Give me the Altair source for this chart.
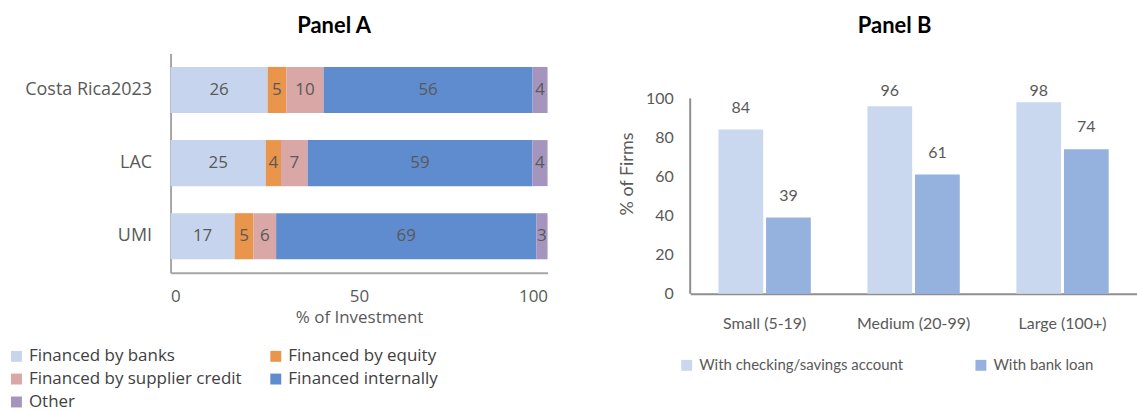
import altair as alt
import pandas as pd

# Panel A: sources of investment finance by region (% of investment)
regions = ["Costa Rica2023", "LAC", "UMI"]
sources = [
    "Financed by banks",
    "Financed by equity",
    "Financed by supplier credit",
    "Financed internally",
    "Other",
]
banks = [26, 25, 17]
equity = [5, 4, 5]
supplier = [10, 7, 6]
internal = [56, 59, 69]
other = [4, 4, 3]
source_colors = ["#c6d5ed", "#e9954c", "#d8a7a6", "#5f8bcf", "#a595be"]

# Panel B: access to finance by firm size (% of firms)
sizes = ["Small (5-19)", "Medium (20-99)", "Large (100+)"]
account = [84, 96, 98]
loan = [39, 61, 74]
access = ["With checking/savings account", "With bank loan"]
access_colors = ["#c9d8ef", "#95b2de"]

FONT_A = "Open Sans"
FONT_B = "Lato"
GREY = "#595959"

rows_a = []
for k, (name, vals) in enumerate(zip(sources, [banks, equity, supplier, internal, other])):
    for r, v in zip(regions, vals):
        rows_a.append({"region": r, "source": name, "k": k, "value": v})
df_a = pd.DataFrame(rows_a)

rows_b = []
for name, vals in zip(access, [account, loan]):
    for s, v in zip(sizes, vals):
        rows_b.append({"size": s, "access": name, "pct": v})
df_b = pd.DataFrame(rows_b)

# ---- Panel A: 100% stacked horizontal bars ----
base_a = (
    alt.Chart(df_a)
    .transform_joinaggregate(total="sum(value)", groupby=["region"])
    .transform_calculate(share="datum.value / datum.total * 100")
    .transform_stack(
        stack="share",
        groupby=["region"],
        as_=["x0", "x1"],
        sort=[alt.SortField("k", order="ascending")],
    )
    .transform_calculate(mid="(datum.x0 + datum.x1) / 2")
)

y_a = alt.Y(
    "region:N",
    sort=regions,
    title=None,
    scale=alt.Scale(paddingInner=0.37, paddingOuter=0.185),
    axis=alt.Axis(
        ticks=False, tickSize=0, labelPadding=19, labelFont=FONT_A, labelFontSize=18,
        labelColor=GREY, domainColor="#a6a6a6", domainWidth=2, grid=False,
    ),
)

bars_a = base_a.mark_bar().encode(
    x=alt.X(
        "x0:Q",
        scale=alt.Scale(domain=[0, 100]),
        axis=alt.Axis(
            values=[0, 50, 100], title="% of Investment", ticks=False, tickSize=0,
            labelPadding=16, labelFont=FONT_A, labelFontSize=17, labelColor=GREY,
            titleFont=FONT_A, titleFontSize=17, titleFontWeight="normal",
            titleColor=GREY, titlePadding=5, domainColor="#a6a6a6", domainWidth=2,
            grid=False,
        ),
    ),
    x2="x1:Q",
    y=y_a,
    color=alt.Color(
        "source:N",
        sort=sources,
        scale=alt.Scale(domain=sources, range=source_colors),
        legend=alt.Legend(
            title=None, orient="none", legendX=-163, legendY=295, direction="horizontal",
            columns=2, columnPadding=25, rowPadding=5, symbolType="square",
            symbolSize=120, symbolStrokeWidth=0, labelFont=FONT_A, labelFontSize=17,
            labelColor="#404040", labelOffset=4, labelLimit=400,
        ),
    ),
)

text_a = base_a.mark_text(font=FONT_A, fontSize=17, color=GREY).encode(
    x=alt.X("mid:Q"),
    y=alt.Y("region:N", sort=regions),
    text=alt.Text("value:Q"),
)

panel_a = alt.layer(bars_a, text_a).properties(
    width=378,
    height=220,
    title=alt.TitleParams(
        "Panel A", font=FONT_B, fontSize=22, fontWeight="bold", color="black",
        anchor="middle", frame="group", dx=-25, offset=15,
    ),
)

# ---- Panel B: grouped vertical bars ----
# The view runs higher than the 0-100 axis so the panel title sits level with Panel A's.
y_top_b = 123
x_b = alt.X(
    "size:N",
    sort=sizes,
    title=None,
    scale=alt.Scale(paddingInner=0.38, paddingOuter=0.19),
    axis=alt.Axis(
        labelAngle=0, ticks=False, tickSize=0, labelPadding=22, labelFont=FONT_B,
        labelFontSize=16, labelColor=GREY, domainColor="#8f8f8f", domainWidth=2,
    ),
)
xoff_b = alt.XOffset("access:N", sort=access, scale=alt.Scale(paddingInner=0.06))
y_axis_b = alt.Axis(
    values=[0, 20, 40, 60, 80, 100], ticks=False, tickSize=0, labelPadding=17,
    labelFont=FONT_B, labelFontSize=16, labelColor=GREY, titleFont=FONT_B,
    titleFontSize=18, titleFontWeight="normal", titleColor=GREY, titlePadding=9,
    domain=False, grid=False,
)
y_scale_b = alt.Scale(domain=[0, y_top_b], nice=False)

bars_b = alt.Chart(df_b).mark_bar().encode(
    x=x_b,
    xOffset=xoff_b,
    y=alt.Y("pct:Q", title="% of Firms", scale=y_scale_b, axis=y_axis_b),
    color=alt.Color(
        "access:N",
        sort=access,
        scale=alt.Scale(domain=access, range=access_colors),
        legend=alt.Legend(
            title=None, orient="none", legendX=-11, legendY=305, direction="horizontal",
            columnPadding=70, symbolType="square", symbolSize=120, symbolStrokeWidth=0,
            labelFont=FONT_B, labelFontSize=15, labelColor=GREY, labelOffset=5,
            labelLimit=0,
        ),
    ),
)

# y axis line drawn from 0 to 100 only
axis_line_b = (
    alt.Chart(df_b)
    .transform_aggregate(n="count()")
    .mark_rule(color="#8f8f8f", strokeWidth=2)
    .encode(x=alt.value(0), y=alt.datum(0), y2=alt.datum(100))
)

# value labels sit above each bar, kept below the panel ceiling
text_b = (
    alt.Chart(df_b)
    .transform_calculate(ly="min(datum.pct + 11.2, 103.6)")
    .mark_text(font=FONT_B, fontSize=16, color=GREY, baseline="middle")
    .encode(
        x=x_b,
        xOffset=xoff_b,
        y=alt.Y("ly:Q", title="% of Firms", scale=y_scale_b, axis=y_axis_b),
        text=alt.Text("pct:Q"),
    )
)

panel_b = alt.layer(bars_b, axis_line_b, text_b).properties(
    width=448,
    height=241,
    title=alt.TitleParams(
        "Panel B", font=FONT_B, fontSize=22, fontWeight="bold", color="black",
        anchor="middle", frame="group", dx=-19, offset=15,
    ),
)

chart = (
    alt.hconcat(panel_a, panel_b, spacing=70)
    .resolve_scale(color="independent")
    .resolve_legend(color="independent")
    .configure_view(stroke=None)
    .properties(padding={"left": 8, "top": 15, "right": 0, "bottom": 0}, background="white")
)

chart.save("out.html", embed_options={"renderer": "svg", "actions": False})
